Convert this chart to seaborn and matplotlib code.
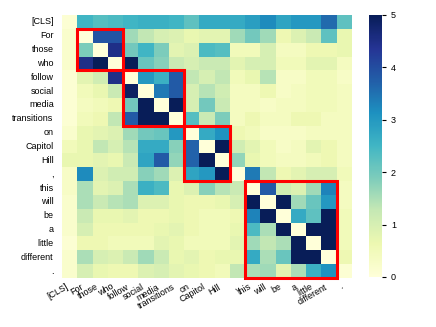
import matplotlib
matplotlib.use("Agg")
import matplotlib.pyplot as plt
import seaborn as sns
import numpy as np
from matplotlib.patches import Rectangle

tokens = ["[CLS]", "For", "those", "who", "follow", "social", "media", "transitions",
          "on", "Capitol", "Hill", ",", "this", "will", "be", "a", "little",
          "different", "."]

attn = np.array([
    [0.1, 2.5, 2.3, 2.4, 2.5, 2.6, 2.6, 2.5, 2.2, 2.7, 2.7, 2.7, 2.9, 3.2, 2.8, 3.0, 3.0, 3.6, 2.2],
    [0.2, 0.0, 3.9, 3.9, 1.6, 1.3, 1.0, 0.9, 0.7, 0.8, 0.8, 1.6, 2.0, 1.6, 0.6, 0.9, 1.2, 2.2, 0.7],
    [0.2, 1.9, 0.0, 4.5, 2.0, 2.5, 1.9, 0.8, 0.9, 2.4, 2.3, 0.5, 0.5, 1.0, 0.4, 0.4, 0.6, 0.6, 0.7],
    [0.2, 4.5, 5.0, 0.0, 5.0, 2.1, 1.8, 1.2, 1.0, 1.2, 1.2, 0.8, 1.0, 1.0, 0.5, 0.5, 0.8, 0.8, 0.4],
    [0.1, 0.8, 1.1, 4.5, 0.0, 3.0, 2.6, 3.8, 1.3, 1.0, 1.3, 0.5, 0.7, 1.4, 0.3, 0.3, 0.5, 0.5, 0.3],
    [0.1, 0.5, 0.7, 1.2, 4.9, 0.0, 3.4, 3.8, 1.0, 1.4, 1.1, 0.4, 0.4, 0.6, 0.3, 0.4, 0.5, 0.5, 0.4],
    [0.1, 0.4, 0.5, 0.6, 2.0, 5.0, 0.0, 5.0, 1.0, 2.0, 1.2, 0.4, 0.4, 0.3, 0.4, 0.4, 0.5, 0.5, 0.4],
    [0.1, 0.5, 0.6, 1.3, 3.8, 5.0, 5.0, 0.0, 2.3, 1.2, 1.9, 0.4, 0.6, 0.4, 0.4, 0.6, 0.6, 0.4, 0.4],
    [0.2, 0.7, 0.8, 0.9, 1.6, 2.0, 2.1, 3.0, 0.0, 2.7, 3.1, 0.6, 0.5, 0.3, 0.3, 0.3, 0.4, 0.4, 0.4],
    [0.5, 0.7, 1.3, 1.0, 1.4, 2.7, 2.7, 1.8, 3.7, 0.0, 5.0, 1.1, 0.8, 0.5, 0.3, 0.4, 0.8, 0.6, 0.4],
    [0.7, 0.7, 0.8, 0.7, 1.2, 2.8, 3.8, 1.7, 3.7, 5.0, 0.0, 1.7, 0.7, 0.5, 0.4, 0.4, 0.5, 0.6, 0.4],
    [0.3, 3.2, 0.9, 1.1, 1.1, 1.8, 1.6, 0.9, 2.8, 3.0, 5.0, 0.0, 3.4, 1.3, 0.6, 0.8, 1.0, 1.0, 0.5],
    [0.3, 1.5, 0.8, 0.9, 1.5, 2.6, 2.4, 0.7, 0.9, 1.8, 1.4, 1.2, 0.0, 3.8, 1.1, 0.9, 1.6, 3.3, 0.4],
    [0.2, 1.5, 1.2, 1.4, 1.5, 0.9, 0.9, 0.7, 0.6, 0.6, 0.7, 1.0, 5.0, 0.0, 5.0, 1.6, 2.1, 3.0, 0.4],
    [0.2, 1.2, 0.7, 0.7, 0.8, 0.6, 0.6, 0.7, 0.6, 0.5, 0.5, 0.6, 3.3, 5.0, 0.0, 2.7, 2.2, 5.0, 0.5],
    [0.2, 1.0, 0.6, 0.6, 0.6, 0.6, 0.7, 0.8, 0.6, 0.5, 0.5, 0.7, 2.4, 1.5, 5.0, 0.0, 5.0, 5.0, 0.5],
    [0.1, 0.6, 0.6, 0.5, 0.5, 0.5, 0.8, 0.7, 0.5, 0.5, 0.5, 0.8, 1.6, 1.3, 1.5, 5.0, 0.0, 5.0, 0.5],
    [0.2, 1.5, 1.0, 0.9, 1.2, 1.6, 1.2, 0.7, 0.8, 0.6, 0.7, 0.7, 2.7, 1.5, 2.1, 5.0, 5.0, 0.0, 0.6],
    [0.2, 1.0, 0.7, 0.6, 0.6, 0.9, 1.0, 0.8, 0.7, 0.6, 0.5, 1.3, 1.5, 1.6, 0.8, 1.5, 2.6, 3.1, 0.1],
])

# highlighted phrase blocks: (first col, first row, n cols, n rows)
blocks = [(1, 1, 3, 3), (4, 4, 4, 4), (8, 8, 3, 4), (12, 12, 6, 7)]

plt.rcParams['font.family'] = ['Liberation Sans', 'DejaVu Sans']

fig = plt.figure(figsize=(4.36, 3.27), dpi=100)
ax = fig.add_axes([62 / 436, 49 / 327, 290 / 436, 263 / 327])
cax = fig.add_axes([369 / 436, 50 / 327, 13 / 436, 262 / 327])

sns.heatmap(attn, cmap="YlGnBu", vmin=0, vmax=5, ax=ax, cbar_ax=cax,
            xticklabels=tokens, yticklabels=tokens)

for c, r, w, h in blocks:
    ax.add_patch(Rectangle((c, r), w, h, fill=False,
                           edgecolor='red', lw=2.2, clip_on=False))

ax.tick_params(length=0, labelsize=6.5)
ax.tick_params(axis='y', pad=6)
ax.tick_params(axis='x', pad=3)
plt.setp(ax.get_xticklabels(), rotation=30, ha='right')
plt.setp(ax.get_yticklabels(), rotation=0)

cax.tick_params(labelsize=6.5, length=3, width=0.8)
cax.set_yticks([0, 1, 2, 3, 4, 5])

fig.savefig("out.png", dpi=100)
